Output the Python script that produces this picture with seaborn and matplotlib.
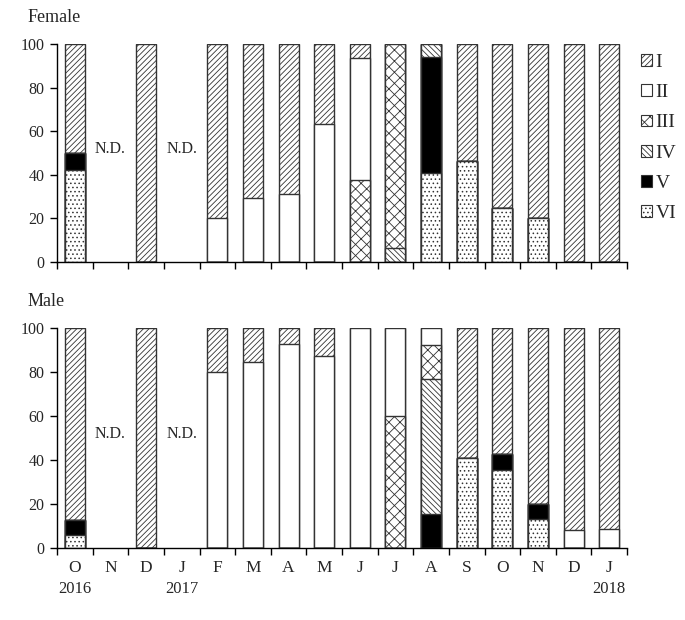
import numpy as np
import pandas as pd
import matplotlib
matplotlib.use("Agg")
import matplotlib.pyplot as plt
import seaborn as sns
from matplotlib.patches import Patch

sns.set_theme(style="ticks")
plt.rcParams['font.family'] = ['Liberation Serif', 'DejaVu Serif']
plt.rcParams['hatch.linewidth'] = 0.6

months = ["O", "N", "D", "J", "F", "M", "A", "M", "J", "J", "A", "S", "O", "N", "D", "J"]
keys = [f"{m}{i}" for i, m in enumerate(months)]
years = {0: "2016", 3: "2017", 15: "2018"}
nd_idx = [1, 3]
stages = ["I", "II", "III", "IV", "V", "VI"]

# Female (% per stage); NaN = no data
female_I   = [50, np.nan, 100, np.nan, 80, 70.5, 69, 36.5, 6.5, 0, 0, 54, 75, 80, 100, 100]
female_II  = [0, np.nan, 0, np.nan, 20, 29.5, 31, 63.5, 56, 0, 0, 0, 0, 0, 0, 0]
female_III = [0, np.nan, 0, np.nan, 0, 0, 0, 0, 37.5, 93.4, 0, 0, 0, 0, 0, 0]
female_IV  = [0, np.nan, 0, np.nan, 0, 0, 0, 0, 0, 6.6, 5.8, 0, 0, 0, 0, 0]
female_V   = [7.6, np.nan, 0, np.nan, 0, 0, 0, 0, 0, 0, 53.3, 0, 0, 0, 0, 0]
female_VI  = [42.4, np.nan, 0, np.nan, 0, 0, 0, 0, 0, 0, 40.9, 46.2, 25, 20, 0, 0]

# Male
male_I   = [87.4, np.nan, 100, np.nan, 20, 15.5, 7.1, 12.6, 0, 0, 0, 58.9, 57.1, 80, 91.7, 91.2]
male_II  = [0, np.nan, 0, np.nan, 80, 84.5, 92.9, 87.4, 100, 40, 7.6, 0, 0, 0, 8.3, 8.8]
male_III = [0, np.nan, 0, np.nan, 0, 0, 0, 0, 0, 60, 15.4, 0, 0, 0, 0, 0]
male_IV  = [0, np.nan, 0, np.nan, 0, 0, 0, 0, 0, 0, 61.7, 0, 0, 0, 0, 0]
male_V   = [6.8, np.nan, 0, np.nan, 0, 0, 0, 0, 0, 0, 15.3, 0, 7.6, 7, 0, 0]
male_VI  = [5.8, np.nan, 0, np.nan, 0, 0, 0, 0, 0, 0, 0, 41.1, 35.3, 13, 0, 0]

female = [female_I, female_II, female_III, female_IV, female_V, female_VI]
male = [male_I, male_II, male_III, male_IV, male_V, male_VI]

styles = {
    "I":   dict(color="white", hatch="//////"),
    "II":  dict(color="white", hatch=None),
    "III": dict(color="white", hatch="xxx"),
    "IV":  dict(color="white", hatch="\\\\\\\\\\\\"),
    "V":   dict(color="black", hatch=None),
    "VI":  dict(color="white", hatch="...."),
}
edge = "#333333"

fig = plt.figure(figsize=(6.85, 6.2), dpi=100)
ax_f = fig.add_axes([57/685, 1-262/620, 570/685, 218/620])
ax_m = fig.add_axes([57/685, 1-548/620, 570/685, 220/620])


def draw(ax, series, title, show_labels):
    arr = np.array(series, dtype=float)  # rows I..VI
    cum = np.cumsum(arr[::-1], axis=0)[::-1]  # cum[0] = total, cum[5] = VI
    for si, st in enumerate(stages):
        df = pd.DataFrame({"key": keys, "val": cum[si]})
        sns.barplot(data=df, x="key", y="val", order=keys, ax=ax,
                    color=styles[st]["color"], saturation=1, width=0.56,
                    edgecolor=edge, linewidth=1.0, hatch=styles[st]["hatch"],
                    errorbar=None)
    ax.set_xlim(-0.5, 15.5)
    ax.set_ylim(0, 100)
    ax.set_yticks([0, 20, 40, 60, 80, 100])
    ax.set_ylabel("")
    ax.set_xlabel("")
    ax.set_xticks(np.arange(16))
    ax.set_xticks(np.arange(-0.5, 16, 1), minor=True)
    ax.tick_params(axis="x", which="major", length=0, labelsize=12.5, pad=9)
    ax.tick_params(axis="x", which="minor", length=5, width=1, color="black", direction="out")
    ax.tick_params(axis="y", which="major", length=5, width=1, color="black",
                   direction="out", labelsize=11.5, pad=4)
    if show_labels:
        ax.set_xticklabels(months)
    else:
        ax.set_xticklabels([""] * 16)
    sns.despine(ax=ax)
    for s in ["left", "bottom"]:
        ax.spines[s].set_color("black")
        ax.spines[s].set_linewidth(1.0)
    for i in nd_idx:
        ax.text(i, 52, "N.D.", ha="center", va="center", fontsize=11.5)
    ax.text(-0.051, 1.12, title, transform=ax.transAxes, fontsize=13,
            ha="left", va="center")
    ax.patch.set_alpha(0)


draw(ax_f, female, "Female", False)
draw(ax_m, male, "Male", True)

for i, y in years.items():
    ax_m.text(i, -0.186, y, transform=ax_m.get_xaxis_transform(),
              ha="center", va="center", fontsize=12)

handles = [Patch(facecolor=styles[s]["color"], hatch=styles[s]["hatch"],
                 edgecolor=edge, linewidth=0.8, label=s) for s in stages]
fig.legend(handles=handles, loc="upper left", bbox_to_anchor=(641/685, 1-54/620),
           frameon=False, fontsize=14, handlelength=0.55, handleheight=0.55,
           handletextpad=0.2, labelspacing=0.68, borderaxespad=0, borderpad=0)

fig.savefig("out.png", dpi=100)
